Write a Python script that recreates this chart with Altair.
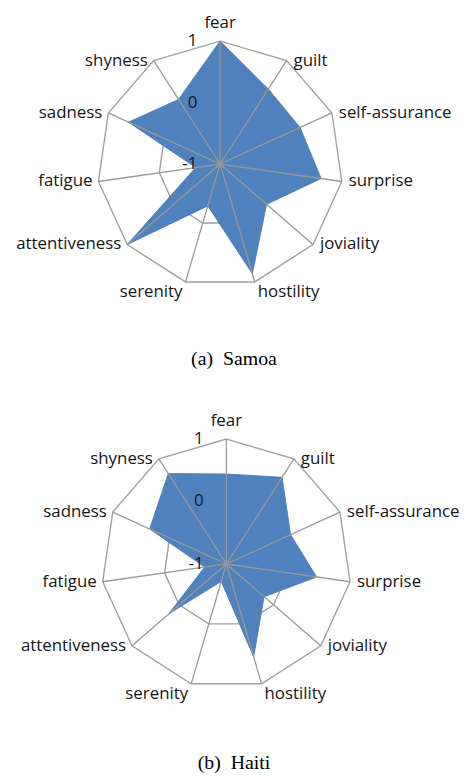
import math
import altair as alt
import pandas as pd

categories = ["fear", "guilt", "self-assurance", "surprise", "joviality", "hostility",
              "serenity", "attentiveness", "fatigue", "sadness", "shyness"]
samoa = [1.0, 0.45, 0.43, 0.66, 0.0, 0.86, -0.29, 1.0, -0.6, 0.64, 0.25]
haiti = [0.44, 0.65, 0.13, 0.46, -0.2, 0.55, -0.71, 0.22, -0.65, 0.35, 0.72]
ring_values = [0, 1]
tick_values = [1, 0, -1]
tick_labels = ["1", "0", "-1"]
captions = ["(a)\u00a0\u00a0Samoa", "(b)\u00a0\u00a0Haiti"]
VMIN, VMAX = -1.0, 1.0

FILL = "#4F81BD"
GRID = "#A0A0A0"
SPOKE = "#999999"
LABEL_FONT = "Open Sans"
LABEL_SIZE = 17
TXT = "#151515"

N = len(categories)


def rad(v):
    return (v - VMIN) / (VMAX - VMIN)


def ang(k):
    return 2 * math.pi * k / N


def radar(values, caption, width, height, xdom, ydom):
    xs = alt.X("x:Q", scale=alt.Scale(domain=xdom, nice=False, zero=False), axis=None)
    ys = alt.Y("y:Q", scale=alt.Scale(domain=ydom, nice=False, zero=False), axis=None)

    rings = pd.DataFrame([
        {"level": lv, "idx": k, "x": rad(lv) * math.sin(ang(k)), "y": rad(lv) * math.cos(ang(k))}
        for lv in ring_values for k in range(N)
    ])
    poly = pd.DataFrame([
        {"idx": k, "cat": c, "value": v,
         "x": rad(v) * math.sin(ang(k)), "y": rad(v) * math.cos(ang(k))}
        for k, (c, v) in enumerate(zip(categories, values))
    ])
    spokes = pd.DataFrame([
        {"cat": c, "x": 0.0, "y": 0.0, "x2": math.sin(ang(k)), "y2": math.cos(ang(k))}
        for k, c in enumerate(categories)
    ])
    labels = pd.DataFrame([
        {"cat": c, "x": math.sin(ang(k)), "y": math.cos(ang(k))}
        for k, c in enumerate(categories)
    ])
    ticks = pd.DataFrame([
        {"t": t, "x": 0.0, "y": rad(v)} for v, t in zip(tick_values, tick_labels)
    ])

    ring_layer = alt.Chart(rings).mark_line(
        interpolate="linear-closed", stroke=GRID, strokeWidth=1.4, fill=None
    ).encode(x=xs, y=ys, detail="level:N", order="idx:Q")

    poly_layer = alt.Chart(poly).mark_line(
        interpolate="linear-closed", fill=FILL, stroke=FILL, strokeWidth=1
    ).encode(x=xs, y=ys, order="idx:Q")

    spoke_layer = alt.Chart(spokes).mark_rule(stroke=SPOKE, strokeWidth=1.3).encode(
        x=xs, y=ys, x2="x2:Q", y2="y2:Q"
    )

    groups = [
        (["fear"], "center", "alphabetic", 0, -13),
        (["guilt", "self-assurance", "surprise", "joviality"], "left", "middle", 7, 0),
        (["hostility"], "left", "middle", 3, 10),
        (["serenity"], "right", "middle", -3, 10),
        (["attentiveness", "fatigue", "sadness", "shyness"], "right", "middle", -6, 0),
    ]
    label_layers = []
    for cats, al, bl, dx, dy in groups:
        label_layers.append(
            alt.Chart(labels[labels["cat"].isin(cats)]).mark_text(
                align=al, baseline=bl, dx=dx, dy=dy, font=LABEL_FONT,
                fontSize=LABEL_SIZE, color=TXT
            ).encode(x=xs, y=ys, text="cat:N")
        )

    tick_layer = alt.Chart(ticks).mark_text(
        align="right", baseline="middle", dx=-23, font=LABEL_FONT,
        fontSize=LABEL_SIZE, color=TXT
    ).encode(x=xs, y=ys, text="t:N")

    return alt.layer(
        ring_layer, poly_layer, spoke_layer, *label_layers, tick_layer
    ).properties(
        width=width, height=height,
        title=alt.TitleParams(caption, orient="bottom", font="Liberation Serif",
                              fontSize=20, fontWeight="normal", color="black",
                              offset=4, anchor="middle"),
    )


# panel sizes in px; centre of each radar inside its plot area and its radius
W = 456
H1, cx1, cy1, R1 = 337, 214.0, 154.0, 124.0
H2, cx2, cy2, R2 = 383, 220.3, 196.5, 126.0

top = radar(samoa, captions[0], W, H1,
            [-cx1 / R1, (W - cx1) / R1], [(cy1 - H1) / R1, cy1 / R1])
bottom = radar(haiti, captions[1], W, H2,
               [-cx2 / R2, (W - cx2) / R2], [(cy2 - H2) / R2, cy2 / R2])

chart = alt.vconcat(top, bottom, spacing=0).properties(padding=0).configure_view(stroke=None)

chart.save("out.html", embed_options={"renderer": "svg", "actions": False})
